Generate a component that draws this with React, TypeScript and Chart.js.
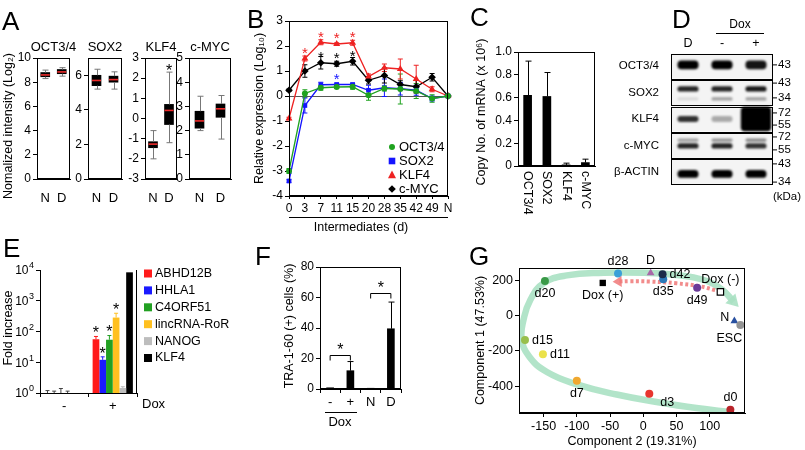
import React, { useEffect, useRef } from 'react';
import { Chart, registerables } from 'chart.js';
Chart.register(...registerables);

const W = 805;
const H = 450;
const FONT = "'Liberation Sans', Arial, Helvetica, sans-serif";

// ================= DATA =================
// A: box plots, [min, q1, median, q3, max]
const aGroups = ['N', 'D'];
const octN = [8.3, 8.45, 8.6, 8.8, 9.0];
const octD = [8.5, 8.7, 8.85, 9.05, 9.2];
const soxN = [5.2, 5.4, 5.7, 6.0, 6.35];
const soxD = [5.2, 5.6, 5.75, 5.95, 6.2];
const klfN = [-2.0, -1.45, -1.27, -1.15, -0.6];
const klfD = [-1.2, -0.3, 0.4, 0.7, 2.3];
const mycN = [2.0, 2.1, 2.4, 2.8, 3.42];
const mycD = [1.65, 2.55, 2.9, 3.1, 3.45];

// B: relative expression (log10) over intermediates
const bDays = ['0', '3', '7', '11', '15', '20', '28', '35', '42', '49', 'N'];
const bOct = [-3.0, 0.1, 0.33, 0.36, 0.37, 0.03, 0.3, 0.28, 0.2, -0.1, 0];
const bSox = [-3.4, -0.38, 0.45, 0.46, 0.46, 0.23, 0.33, 0.29, 0.23, -0.1, 0];
const bKlf = [-0.9, 1.5, 2.15, 2.08, 2.13, 0.78, 1.13, 1.08, 0.68, 0.27, 0];
const bMyc = [0.23, 1.0, 1.33, 1.29, 1.39, 0.63, 0.82, 0.46, 0.37, 0.75, 0];
const bOctErr = [0.1, 0.15, 0.1, 0.05, 0.1, 0.2, 0.1, 0.6, 0.3, 0.15, 0];
const bSoxErr = [0.05, 0.3, 0.1, 0.05, 0.05, 0.2, 0.35, 0.25, 0.2, 0.1, 0];
const bKlfErr = [0.05, 0.1, 0.1, 0.05, 0.1, 0.1, 0.15, 0.4, 0.55, 0.1, 0];
const bMycErr = [0.05, 0.25, 0.25, 0.1, 0.15, 0.15, 0.3, 0.15, 0.25, 0.15, 0];
const bKlfSig = [1, 2, 3, 4];
const bMycSig = [2, 3, 4];
const bSoxSig = [3];

// C: copy number of mRNA (x 10^6)
const cGenes = ['OCT3/4', 'SOX2', 'KLF4', 'c-MYC'];
const cCopies = [0.62, 0.61, 0.01, 0.03];
const cErr = [0.3, 0.21, 0.015, 0.03];

// D: western blot
const dLanes = ['D', '-', '+'];
const dProteins = ['OCT3/4', 'SOX2', 'KLF4', 'c-MYC', 'β-ACTIN'];
const dLadder = [['43'], ['43', '34'], ['72', '55'], ['72', '55'], ['43', '34']];
const dLadderPos = [[-0.05], [-0.36, 0.2], [-0.23, 0.23], [-0.32, 0.17], [-0.3, 0.39]];
// [strip, migration, thickness, signal in lane D, -, +]
const dBands = [
  [0, -0.05, 0.34, 1.0, 1.0, 0.92],
  [1, -0.14, 0.2, 0.85, 0.85, 0.9],
  [1, 0.24, 0.12, 0.1, 0.35, 0.35],
  [2, 0.0, 0.22, 0.8, 0.3, 3.0],
  [3, -0.2, 0.12, 0.35, 0.4, 0.45],
  [3, 0.02, 0.2, 0.85, 0.85, 0.8],
  [4, 0.08, 0.3, 1.0, 1.0, 1.0],
];

// E: fold increase
const eGenes = ['ABHD12B', 'HHLA1', 'C4ORF51', 'lincRNA-RoR', 'NANOG', 'KLF4'];
const eDox = ['-', '+'];
const eMinus = [1, 1, 1, 1, 1, 1];
const ePlus = [56, 12, 54, 284, 1.45, 8400];
const eMinusTop = [1.2, 1.15, 1.4, 1.15, 1, 1];
const ePlusTop = [69, 15, 74, 392, 1.6, 8400];
const eSig = [true, true, true, true, false, false];
const eDecades = [0, 1, 2, 3, 4];

// F: TRA-1-60 (+) cells (%)
const fCats = ['-', '+', 'N', 'D'];
const fVals = [0.8, 12, 0.5, 39.5];
const fErr = [0.3, 6, 0.2, 17.5];
const fPairs = [[0, 1], [2, 3]];
const fPairLevel = [22, 63];

// G: PCA
const gNames = ['d0', 'd3', 'd7', 'd11', 'd15', 'd20', 'd28', 'd35', 'd42', 'd49', 'D', 'N', 'ESC', 'Dox (+)', 'Dox (-)'];
const gC2 = [131, 9, -100, -151, -178, -148, -38, 30, 29, 81, 11, 137, 146, -61, 116];
const gC1 = [-534, -444, -370, -219, -138, 198, 240, 208, 236, 159, 244, -30, -53, 187, 136];
const gTrajC2 = [133, 80, 20, -40, -100, -145, -172, -183, -180, -170, -150, -115, -60, 0, 50, 90, 118, 136];
const gTrajC1 = [-548, -525, -490, -448, -390, -320, -230, -130, -20, 90, 185, 230, 245, 245, 232, 205, 150, 80];
const gBackC2 = [108, 85, 50, 10, -20, -38];
const gBackC1 = [146, 168, 185, 195, 197, 195];
const gXTicks = [-150, -100, -50, 0, 50, 100];
const gYTicks = [-400, -200, 0, 200];

// ================= STYLES / HELPERS =================
type Area = [number, number, number, number];

function pad(a: Area, yw: number, xh: number, xTop = false) {
  const [x0, y0, x1, y1] = a;
  return xTop
    ? { left: x0 - yw, right: W - x1, top: y0 - xh, bottom: H - y1 }
    : { left: x0 - yw, right: W - x1, top: y0, bottom: H - y1 - xh };
}

function base(a: Area, yw: number, xh: number, xTop = false) {
  return {
    responsive: false,
    animation: false,
    devicePixelRatio: 1,
    events: [],
    layout: { padding: pad(a, yw, xh, xTop) },
    plugins: { legend: { display: false }, tooltip: { enabled: false }, title: { display: false } },
  };
}

function yLin(min: number, max: number, step: number, w: number) {
  return {
    type: 'linear',
    min,
    max,
    ticks: { stepSize: step, font: { family: FONT, size: 12 }, color: '#000', padding: 2 },
    grid: { display: true, drawOnChartArea: false, drawTicks: true, tickLength: 4, color: '#000' },
    border: { display: true, color: '#000' },
    afterFit: (s: any) => { s.width = w; },
  };
}

function T(ctx: any, s: string, x: number, y: number, o: any = {}) {
  ctx.save();
  ctx.font = `${o.weight || 'normal'} ${o.size || 12}px ${FONT}`;
  ctx.fillStyle = o.color || '#000';
  ctx.textAlign = o.align || 'center';
  ctx.textBaseline = o.base || 'middle';
  ctx.translate(x, y);
  if (o.rot) ctx.rotate(o.rot);
  ctx.fillText(s, 0, 0);
  ctx.restore();
}

function star(ctx: any, x: number, yc: number, color = '#000', size = 16) {
  T(ctx, '*', x, yc + size * 0.56, { size, color, base: 'alphabetic' });
}

function letter(ctx: any, s: string, x: number, y: number) {
  T(ctx, s, x, y, { size: 26, align: 'left', base: 'alphabetic' });
}

function frame(chart: any) {
  const a = chart.chartArea;
  const ctx = chart.ctx;
  ctx.save();
  ctx.strokeStyle = '#000';
  ctx.lineWidth = 1;
  const l = Math.round(a.left) + 0.5, t = Math.round(a.top) + 0.5;
  const r = Math.round(a.right) - 0.5, b = Math.round(a.bottom) - 0.5;
  ctx.strokeRect(l, t, r - l, b - t);
  ctx.restore();
}

function line(ctx: any, x1: number, y1: number, x2: number, y2: number, color = '#000', w = 1) {
  ctx.save();
  ctx.strokeStyle = color;
  ctx.lineWidth = w;
  ctx.beginPath();
  ctx.moveTo(x1, y1);
  ctx.lineTo(x2, y2);
  ctx.stroke();
  ctx.restore();
}

function errUp(ctx: any, x: number, yFrom: number, yTo: number, cap: number, color = '#000') {
  line(ctx, x, yFrom, x, yTo, color);
  line(ctx, x - cap / 2, yTo, x + cap / 2, yTo, color);
}

function marker(ctx: any, style: string, x: number, y: number, r: number, color: string) {
  ctx.save();
  ctx.fillStyle = color;
  ctx.beginPath();
  if (style === 'circle') ctx.arc(x, y, r, 0, Math.PI * 2);
  else if (style === 'rect') ctx.rect(x - r, y - r, 2 * r, 2 * r);
  else if (style === 'triangle') { ctx.moveTo(x, y - r * 1.1); ctx.lineTo(x + r, y + r * 0.8); ctx.lineTo(x - r, y + r * 0.8); ctx.closePath(); }
  else if (style === 'rectRot') { ctx.moveTo(x, y - r); ctx.lineTo(x + r, y); ctx.lineTo(x, y + r); ctx.lineTo(x - r, y); ctx.closePath(); }
  ctx.fill();
  ctx.restore();
}

// ================= PANEL A =================
function boxCfg(title: string, stats: number[][], min: number, max: number, step: number, a: Area, extra?: (c: any) => void) {
  const yw = 30, xh = 26;
  return {
    type: 'bar',
    data: {
      labels: aGroups,
      datasets: [{ data: stats.map((s) => [s[1], s[3]]), backgroundColor: '#000', barThickness: 9, borderWidth: 0 }],
    },
    options: {
      ...base(a, yw, xh),
      scales: {
        x: {
          grid: { display: false },
          border: { display: true, color: '#000' },
          ticks: { font: { family: FONT, size: 13 }, color: '#000', padding: 4 },
          afterFit: (s: any) => { s.height = xh; },
        },
        y: yLin(min, max, step, yw),
      },
    },
    plugins: [{
      id: 'box',
      afterDatasetsDraw(chart: any) {
        const ctx = chart.ctx;
        const ys = chart.scales.y;
        const meta = chart.getDatasetMeta(0);
        const p = (v: number) => ys.getPixelForValue(v);
        stats.forEach((s, i) => {
          const el = meta.data[i];
          const x = Math.round(el.x) + 0.5;
          const hw = el.width / 2;
          line(ctx, x, p(s[0]), x, p(s[1]), '#777');
          line(ctx, x, p(s[3]), x, p(s[4]), '#777');
          line(ctx, x - 3, p(s[0]), x + 3, p(s[0]), '#777');
          line(ctx, x - 3, p(s[4]), x + 3, p(s[4]), '#777');
          line(ctx, el.x - hw, p(s[2]), el.x + hw, p(s[2]), '#ee2a2a', 1.6);
        });
      },
      afterDraw(chart: any) {
        const ar = chart.chartArea;
        frame(chart);
        T(chart.ctx, title, (ar.left + ar.right) / 2, 47, { size: 13 });
        if (extra) extra(chart);
      },
    }],
  };
}

function cfgA1() {
  return boxCfg('OCT3/4', [octN, octD], 0, 10, 2, [37, 58, 70, 179], (c) => {
    letter(c.ctx, 'A', 2, 30);
    T(c.ctx, 'Nomalized intensity (Log₂)', 9, 126, { size: 12.5, rot: -Math.PI / 2 });
  });
}
function cfgA2() { return boxCfg('SOX2', [soxN, soxD], 0, 7, 1, [88, 58, 122, 179]); }
function cfgA3() {
  return boxCfg('KLF4', [klfN, klfD], -3, 3, 1, [145, 58, 177, 179], (c) => {
    const x = c.getDatasetMeta(0).data[1].x;
    star(c.ctx, x, c.scales.y.getPixelForValue(klfD[4]) - 5);
  });
}
function cfgA4() { return boxCfg('c-MYC', [mycN, mycD], 0, 5, 1, [189, 58, 231, 179]); }

// ================= PANEL B =================
function cfgB() {
  const a: Area = [289, 21, 448, 196];
  const yw = 40, xh = 22;
  const series = [
    { label: 'OCT3/4', data: bOct, err: bOctErr, color: '#1fa21f', style: 'circle', r: 3 },
    { label: 'SOX2', data: bSox, err: bSoxErr, color: '#1414ff', style: 'rect', r: 3.3 },
    { label: 'KLF4', data: bKlf, err: bKlfErr, color: '#ee2222', style: 'triangle', r: 4 },
    { label: 'c-MYC', data: bMyc, err: bMycErr, color: '#000000', style: 'rectRot', r: 3.8 },
  ];
  return {
    type: 'line',
    data: {
      labels: bDays,
      datasets: series.map((s) => ({
        label: s.label, data: s.data, borderColor: s.color, backgroundColor: s.color,
        pointStyle: s.style, pointRadius: s.r, borderWidth: 1.3, tension: 0, pointBorderWidth: 0,
      })),
    },
    options: {
      ...base(a, yw, xh),
      scales: {
        x: {
          offset: false,
          grid: { display: true, drawOnChartArea: false, tickLength: 3, color: '#000' },
          border: { display: true, color: '#000' },
          ticks: { font: { family: FONT, size: 12 }, color: '#000', padding: 2, autoSkip: false, maxRotation: 0 },
          afterFit: (s: any) => { s.height = xh; },
        },
        y: yLin(-4, 3, 1, yw),
      },
    },
    plugins: [{
      id: 'bextra',
      beforeDatasetsDraw(chart: any) {
        const ctx = chart.ctx;
        const ys = chart.scales.y;
        const ar = chart.chartArea;
        line(ctx, ar.left, Math.round(ys.getPixelForValue(0)) + 0.5, ar.right, Math.round(ys.getPixelForValue(0)) + 0.5, '#555');
        series.forEach((s, di) => {
          const meta = chart.getDatasetMeta(di);
          s.data.forEach((v, j) => {
            const e = s.err[j];
            if (!e) return;
            const x = meta.data[j].x;
            const y1 = ys.getPixelForValue(v + e), y2 = ys.getPixelForValue(v - e);
            line(ctx, x, y1, x, y2, s.color);
            line(ctx, x - 2.5, y1, x + 2.5, y1, s.color);
            line(ctx, x - 2.5, y2, x + 2.5, y2, s.color);
          });
        });
      },
      afterDraw(chart: any) {
        const ctx = chart.ctx;
        const ar = chart.chartArea;
        frame(chart);
        const sig = (di: number, idx: number[], color: string) => {
          const meta = chart.getDatasetMeta(di);
          idx.forEach((j) => star(ctx, meta.data[j].x, meta.data[j].y - 9, color, 15));
        };
        sig(2, bKlfSig, '#ee2222');
        sig(3, bMycSig, '#000');
        sig(1, bSoxSig, '#1414ff');
        series.forEach((s, i) => {
          const y = 147 + i * 14;
          marker(ctx, s.style, 392, y, s.r, s.color);
          T(ctx, s.label, 399, y, { size: 13, align: 'left' });
        });
        letter(ctx, 'B', 247, 28);
        T(ctx, 'Relative expression (Log₁₀)', 260, (ar.top + ar.bottom) / 2, { size: 12.5, rot: -Math.PI / 2 });
        line(ctx, ar.left, ar.bottom + 21.5, ar.right, ar.bottom + 21.5);
        T(ctx, 'Intermediates (d)', 361, 228, { size: 12.5 });
      },
    }],
  };
}

// ================= PANEL C =================
function cfgC() {
  const a: Area = [518, 52, 595, 166];
  const yw = 35;
  return {
    type: 'bar',
    data: { labels: cGenes, datasets: [{ data: cCopies, backgroundColor: '#000', barThickness: 8 }] },
    options: {
      ...base(a, yw, 0),
      scales: {
        x: { grid: { display: false }, border: { display: true, color: '#000' }, ticks: { display: false }, afterFit: (s: any) => { s.height = 0; } },
        y: yLin(0, 1, 0.2, yw),
      },
    },
    plugins: [{
      id: 'cextra',
      afterDraw(chart: any) {
        const ctx = chart.ctx;
        const ys = chart.scales.y;
        const xs = chart.scales.x;
        const meta = chart.getDatasetMeta(0);
        frame(chart);
        cCopies.forEach((v, i) => {
          const x = Math.round(meta.data[i].x) + 0.5;
          errUp(ctx, x, ys.getPixelForValue(v), ys.getPixelForValue(v + cErr[i]), 6);
        });
        cGenes.forEach((g, i) => {
          T(ctx, g, xs.getPixelForValue(i), chart.chartArea.bottom + 5, { size: 12.5, align: 'left', rot: Math.PI / 2 });
        });
        letter(ctx, 'C', 470, 26);
        T(ctx, 'Copy No. of mRNA (x 10⁶)', 482, 112, { size: 12.5, rot: -Math.PI / 2 });
      },
    }],
  };
}

// ================= PANEL D =================
function cfgD() {
  const a: Area = [671, 53, 773, 185];
  const yw = 100, xh = 16;
  return {
    type: 'bar',
    data: { labels: dLanes, datasets: [] },
    options: {
      ...base(a, yw, xh, true),
      scales: {
        x: {
          type: 'category', labels: dLanes, position: 'top', offset: true,
          grid: { display: false }, border: { display: false },
          ticks: { display: false },
          afterFit: (s: any) => { s.height = xh; },
        },
        y: {
          type: 'category', labels: dProteins, offset: true,
          grid: { display: false }, border: { display: false },
          ticks: { font: { family: FONT, size: 11.5 }, color: '#000', padding: 4, autoSkip: false },
          afterFit: (s: any) => { s.width = yw; },
        },
      },
    },
    plugins: [{
      id: 'blot',
      afterDraw(chart: any) {
        const ctx = chart.ctx;
        const xs = chart.scales.x;
        const ys = chart.scales.y;
        const ar = chart.chartArea;
        const rowH = ys.getPixelForValue(1) - ys.getPixelForValue(0);
        const laneW = xs.getPixelForValue(1) - xs.getPixelForValue(0);
        dProteins.forEach((_, r) => {
          const yc = ys.getPixelForValue(r);
          ctx.fillStyle = '#f4f4f4';
          ctx.fillRect(ar.left, yc - rowH * 0.47, ar.right - ar.left, rowH * 0.94);
        });
        ctx.save();
        ctx.filter = 'blur(1.1px)';
        dBands.forEach((b) => {
          const [r, pos, th, ...sig] = b;
          sig.forEach((v, l) => {
            if (v <= 0) return;
            const alpha = Math.min(1, v);
            const boost = Math.max(0, v - 1);
            const w = laneW * 0.62 * (1 + boost * 0.22);
            const h = rowH * th * (1 + boost * 1.6);
            const x = xs.getPixelForValue(l);
            const y = ys.getPixelForValue(r + pos);
            ctx.fillStyle = `rgba(0,0,0,${alpha})`;
            ctx.beginPath();
            ctx.roundRect(x - w / 2, y - h / 2, w, h, Math.min(h / 2, 4));
            ctx.fill();
          });
        });
        ctx.restore();
        dProteins.forEach((_, r) => {
          const yc = ys.getPixelForValue(r);
          ctx.save();
          ctx.strokeStyle = '#000';
          ctx.lineWidth = 1;
          ctx.strokeRect(Math.round(ar.left) + 0.5, Math.round(yc - rowH * 0.47) + 0.5, Math.round(ar.right - ar.left) - 1, Math.round(rowH * 0.94));
          ctx.restore();
        });
        dLadder.forEach((marks, r) => marks.forEach((m, k) => {
          const y = ys.getPixelForValue(r + dLadderPos[r][k]);
          line(ctx, ar.right, y, ar.right + 4, y);
          T(ctx, m, ar.right + 5, y, { size: 11.5, align: 'left' });
        }));
        T(ctx, '(kDa)', ar.right + 14, 197, { size: 11.5 });
        dLanes.forEach((l, i) => T(ctx, l, xs.getPixelForValue(i), 44, { size: 12.5 }));
        const x1 = xs.getPixelForValue(1), x2 = xs.getPixelForValue(2);
        line(ctx, x1 - 6, 33.5, x2 + 8, 33.5);
        T(ctx, 'Dox', (x1 + x2) / 2 + 1, 25, { size: 12 });
        letter(ctx, 'D', 672, 28);
      },
    }],
  };
}

// ================= PANEL E =================
function cfgE() {
  const a: Area = [40, 270, 137, 393];
  const yw = 38, xh = 26;
  const colors = ['#ff1a1a', '#1a1aff', '#22a022', '#ffc020', '#bdbdbd', '#000000'];
  return {
    type: 'bar',
    data: {
      labels: eDox,
      datasets: eGenes.map((g, i) => ({
        label: g, data: [eMinus[i], ePlus[i]], backgroundColor: colors[i],
        barPercentage: 1, categoryPercentage: 0.83, borderWidth: 0,
      })),
    },
    options: {
      ...base(a, yw, xh),
      scales: {
        x: {
          grid: { display: true, drawOnChartArea: false, offset: true, tickLength: 4, color: '#000' },
          border: { display: true, color: '#000' },
          ticks: { font: { family: FONT, size: 13 }, color: '#000', padding: 2 },
          afterFit: (s: any) => { s.height = xh; },
        },
        y: {
          type: 'logarithmic', min: 1, max: 10000,
          afterBuildTicks: (s: any) => { s.ticks = eDecades.map((e) => ({ value: Math.pow(10, e), major: true })); },
          ticks: { display: false },
          grid: { display: true, drawOnChartArea: false, tickLength: 4, color: '#000' },
          border: { display: true, color: '#000' },
          afterFit: (s: any) => { s.width = yw; },
        },
      },
    },
    plugins: [{
      id: 'eextra',
      afterDraw(chart: any) {
        const ctx = chart.ctx;
        const ys = chart.scales.y;
        const ar = chart.chartArea;
        line(ctx, Math.round(ar.right) - 0.5, ar.top, Math.round(ar.right) - 0.5, ar.bottom);
        eDecades.forEach((e) => {
          const y = ys.getPixelForValue(Math.pow(10, e));
          const xr = ar.left - 6;
          T(ctx, String(e), xr, y - 4, { size: 9, align: 'right' });
          T(ctx, '10', xr - 5.5, y + 1, { size: 12, align: 'right' });
        });
        eGenes.forEach((g, i) => {
          const meta = chart.getDatasetMeta(i);
          const xm = meta.data[0].x, xp = meta.data[1].x;
          if (eMinusTop[i] > eMinus[i]) errUp(ctx, xm, ys.getPixelForValue(eMinus[i]), ys.getPixelForValue(eMinusTop[i]), 4, '#444');
          if (ePlusTop[i] > ePlus[i]) errUp(ctx, xp, ys.getPixelForValue(ePlus[i]), ys.getPixelForValue(ePlusTop[i]), 4, colors[i]);
          if (eSig[i]) star(ctx, xp, ys.getPixelForValue(ePlusTop[i]) - 7, '#000', 16);
          const y = 273.5 + i * 16.9;
          ctx.fillStyle = colors[i];
          ctx.fillRect(144, y - 4, 8, 8);
          T(ctx, g, 155, y, { size: 12.5, align: 'left' });
        });
        T(ctx, 'Dox', 142, 404, { size: 13, align: 'left' });
        letter(ctx, 'E', 3, 257);
        T(ctx, 'Fold increase', 9, 328, { size: 12.5, rot: -Math.PI / 2 });
      },
    }],
  };
}

// ================= PANEL F =================
function cfgF() {
  const a: Area = [320, 267, 401, 389];
  const yw = 35, xh = 26;
  return {
    type: 'bar',
    data: { labels: fCats, datasets: [{ data: fVals, backgroundColor: '#000', barThickness: 7 }] },
    options: {
      ...base(a, yw, xh),
      scales: {
        x: {
          grid: { display: true, drawOnChartArea: false, offset: true, tickLength: 4, color: '#000' },
          border: { display: true, color: '#000' },
          ticks: { font: { family: FONT, size: 13 }, color: '#000', padding: 2 },
          afterFit: (s: any) => { s.height = xh; },
        },
        y: yLin(0, 80, 20, yw),
      },
    },
    plugins: [{
      id: 'fextra',
      afterDraw(chart: any) {
        const ctx = chart.ctx;
        const ys = chart.scales.y;
        const meta = chart.getDatasetMeta(0);
        frame(chart);
        fVals.forEach((v, i) => {
          const x = Math.round(meta.data[i].x) + 0.5;
          if (fErr[i] > 0.5) errUp(ctx, x, ys.getPixelForValue(v), ys.getPixelForValue(v + fErr[i]), 6);
        });
        fPairs.forEach(([p, q], k) => {
          const y = Math.round(ys.getPixelForValue(fPairLevel[k])) + 0.5;
          const xl = meta.data[p].x, xr = meta.data[q].x;
          ctx.save();
          ctx.strokeStyle = '#000';
          ctx.beginPath();
          ctx.moveTo(xl, y + 5); ctx.lineTo(xl, y); ctx.lineTo(xr, y); ctx.lineTo(xr, y + 5);
          ctx.stroke();
          ctx.restore();
          star(ctx, (xl + xr) / 2, y - 9, '#000', 16);
        });
        line(ctx, 325, 412.5, 357, 412.5);
        T(ctx, 'Dox', 340, 422, { size: 13 });
        letter(ctx, 'F', 255, 265);
        T(ctx, 'TRA-1-60 (+) cells (%)', 290, 326, { size: 12.5, rot: -Math.PI / 2 });
      },
    }],
  };
}

// ================= PANEL G =================
const gColors = ['#b8242a', '#e8352e', '#f0a830', '#ebe24a', '#98bf4c', '#3a9a48', '#3aa0d8', '#2a78b8', '#1b2b4a', '#6a3a98', '#a868a8', '#2850a0', '#939393', '#000000', '#ffffff'];
const gStyles = ['circle', 'circle', 'circle', 'circle', 'circle', 'circle', 'circle', 'circle', 'circle', 'circle', 'triangle', 'triangle', 'circle', 'rect', 'rect'];
const gAnchor = ['above', 'belowRight', 'below', 'right', 'right', 'below', 'above', 'below', 'right', 'below', 'above', 'left', 'belowLeft', 'below', 'above'];

function arrowHead(ctx: any, pts: any[], color: string, len: number, half: number) {
  const p1 = pts[pts.length - 2], p2 = pts[pts.length - 1];
  const dx = p2.x - p1.x, dy = p2.y - p1.y;
  const d = Math.hypot(dx, dy) || 1;
  const ux = dx / d, uy = dy / d;
  const tipX = p2.x + ux * len * 0.6, tipY = p2.y + uy * len * 0.6;
  const bx = tipX - ux * len, by = tipY - uy * len;
  ctx.save();
  ctx.fillStyle = color;
  ctx.beginPath();
  ctx.moveTo(tipX, tipY);
  ctx.lineTo(bx - uy * half, by + ux * half);
  ctx.lineTo(bx + uy * half, by - ux * half);
  ctx.closePath();
  ctx.fill();
  ctx.restore();
}

function cfgG() {
  const a: Area = [519, 268, 745, 413];
  const yw = 45, xh = 26;
  const trajColor = 'rgba(170, 225, 195, 0.9)';
  const backColor = 'rgba(240, 120, 120, 0.85)';
  return {
    type: 'scatter',
    data: {
      datasets: [
        {
          type: 'scatter', order: 0,
          data: gC2.map((x, i) => ({ x, y: gC1[i] })),
          pointBackgroundColor: gColors,
          pointBorderColor: gColors.map((c) => (c === '#ffffff' ? '#000' : c)),
          pointBorderWidth: gColors.map((c) => (c === '#ffffff' ? 1.2 : 0)),
          pointStyle: gStyles,
          pointRadius: gStyles.map((s) => (s === 'circle' ? 4 : 4.5)),
        },
        {
          type: 'line', order: 1,
          data: gBackC2.map((x, i) => ({ x, y: gBackC1[i] })),
          borderColor: backColor, borderWidth: 4, borderDash: [3, 2.5], pointRadius: 0, tension: 0.4,
        },
        {
          type: 'line', order: 2,
          data: gTrajC2.map((x, i) => ({ x, y: gTrajC1[i] })),
          borderColor: trajColor, borderWidth: 6.5, pointRadius: 0, tension: 0.45,
        },
      ],
    },
    options: {
      ...base(a, yw, xh),
      scales: {
        x: {
          type: 'linear', min: -187, max: 153,
          afterBuildTicks: (s: any) => { s.ticks = gXTicks.map((v) => ({ value: v })); },
          ticks: { font: { family: FONT, size: 12.5 }, color: '#000', padding: 2 },
          grid: { display: true, drawOnChartArea: false, tickLength: 4, color: '#000' },
          border: { display: true, color: '#000' },
          afterFit: (s: any) => { s.height = xh; },
        },
        y: {
          type: 'linear', min: -553, max: 272,
          afterBuildTicks: (s: any) => { s.ticks = gYTicks.map((v) => ({ value: v })); },
          ticks: { font: { family: FONT, size: 12.5 }, color: '#000', padding: 2 },
          grid: { display: true, drawOnChartArea: false, tickLength: 4, color: '#000' },
          border: { display: true, color: '#000' },
          afterFit: (s: any) => { s.width = yw; },
        },
      },
    },
    plugins: [{
      id: 'gextra',
      afterDatasetsDraw(chart: any) {
        const ctx = chart.ctx;
        arrowHead(ctx, chart.getDatasetMeta(2).data, trajColor, 12, 7);
        arrowHead(ctx, chart.getDatasetMeta(1).data, backColor, 9, 5.5);
      },
      afterDraw(chart: any) {
        const ctx = chart.ctx;
        const meta = chart.getDatasetMeta(0);
        frame(chart);
        gNames.forEach((n, i) => {
          const { x, y } = meta.data[i];
          const an = gAnchor[i];
          const o = { size: 12.5 } as any;
          if (an === 'above') T(ctx, n, x, y - 12, o);
          else if (an === 'below') T(ctx, n, x, y + 12.5, o);
          else if (an === 'right') T(ctx, n, x + 7, y, { ...o, align: 'left' });
          else if (an === 'left') T(ctx, n, x - 5, y - 4, { ...o, align: 'right' });
          else if (an === 'belowRight') T(ctx, n, x + 11, y + 9, { ...o, align: 'left' });
          else if (an === 'belowLeft') T(ctx, n, x - 11, y + 13, o);
        });
        letter(ctx, 'G', 469, 265);
        T(ctx, 'Component 1 (47.53%)', 481, (chart.chartArea.top + chart.chartArea.bottom) / 2, { size: 12.5, rot: -Math.PI / 2 });
        T(ctx, 'Component 2 (19.31%)', (chart.chartArea.left + chart.chartArea.right) / 2, 442, { size: 12.5 });
      },
    }],
  };
}

// ================= APP =================
export default function App() {
  const refs = useRef<(HTMLCanvasElement | null)[]>([]);
  useEffect(() => {
    Chart.defaults.font.family = FONT;
    Chart.defaults.color = '#000';
    const cfgs = [cfgA1(), cfgA2(), cfgA3(), cfgA4(), cfgB(), cfgC(), cfgD(), cfgE(), cfgF(), cfgG()];
    const charts = cfgs.map((c, i) => new Chart(refs.current[i] as HTMLCanvasElement, c as any));
    return () => charts.forEach((c) => c.destroy());
  }, []);
  return (
    <div style={{ position: 'absolute', left: 0, top: 0, width: W, height: H, background: '#fff', overflow: 'hidden' }}>
      {Array.from({ length: 10 }).map((_, i) => (
        <canvas
          key={i}
          ref={(el) => { refs.current[i] = el; }}
          width={W}
          height={H}
          style={{ position: 'absolute', left: 0, top: 0, width: W, height: H }}
        />
      ))}
    </div>
  );
}
